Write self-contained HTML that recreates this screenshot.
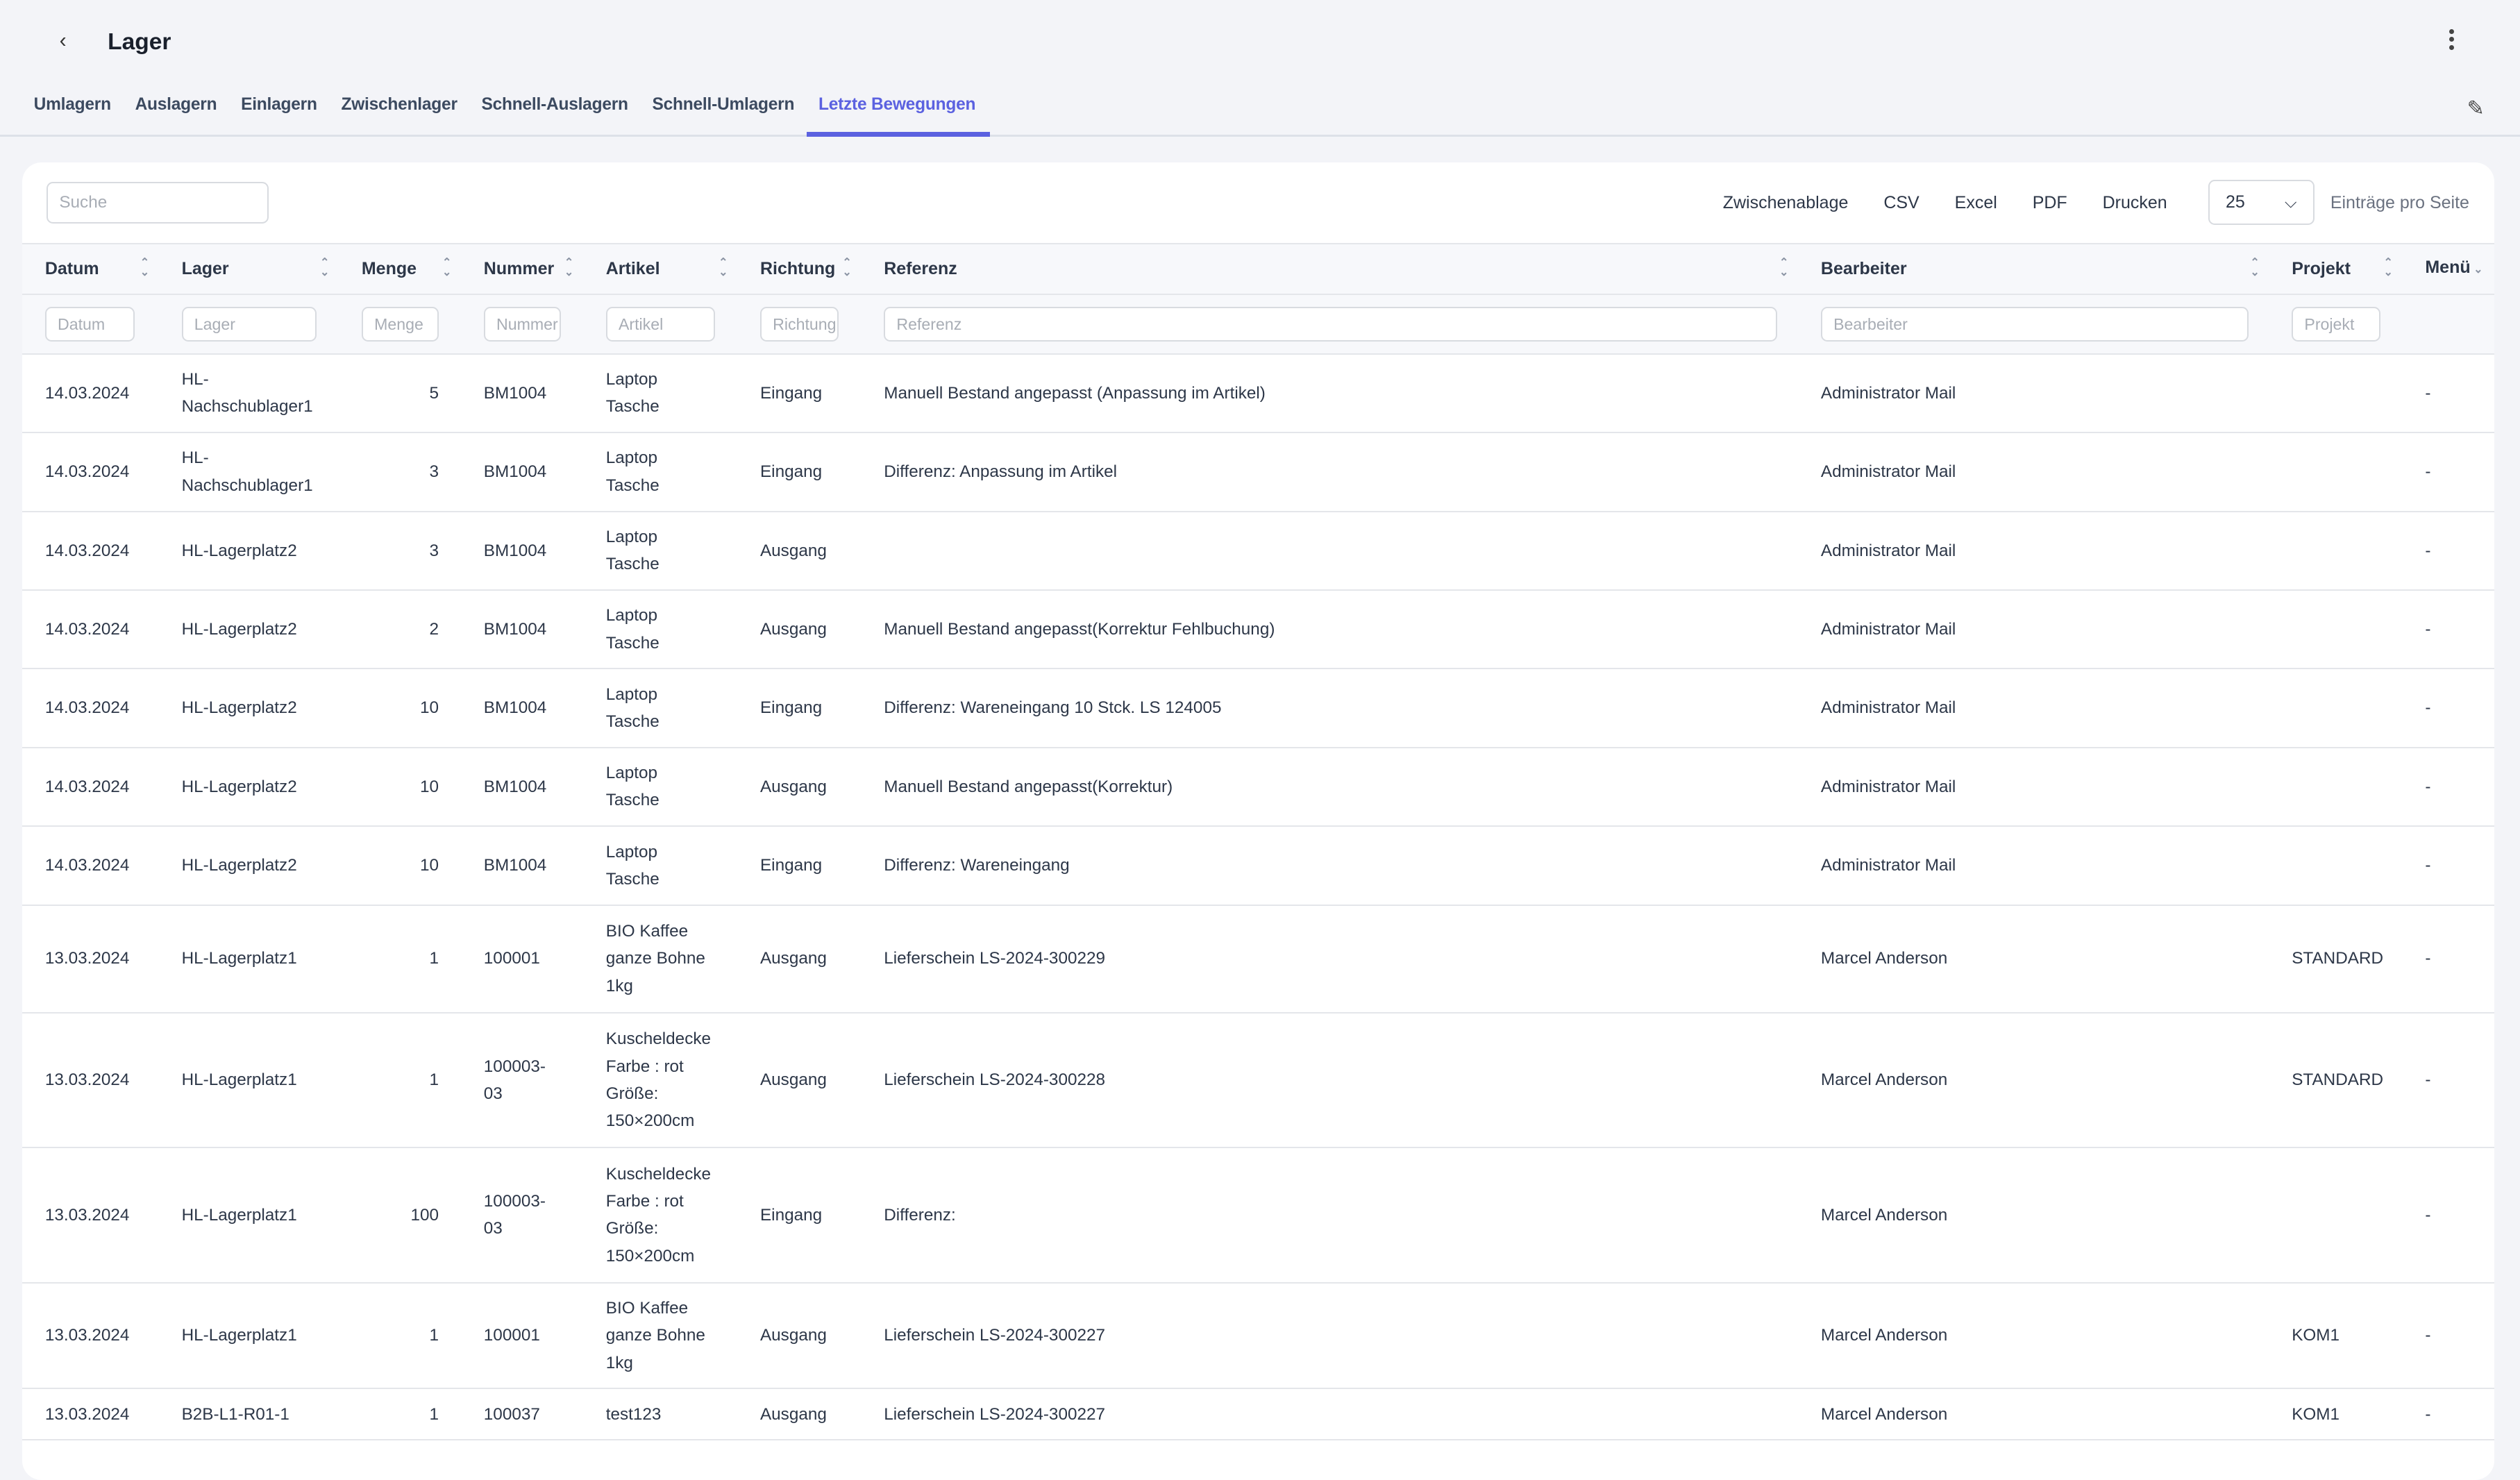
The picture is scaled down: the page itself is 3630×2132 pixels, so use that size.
<!DOCTYPE html>
<html><head><meta charset="utf-8">
<style>
html,body{margin:0;padding:0;}
body{width:1568px;height:903px;zoom:2.31505;background:#f3f4f8;font-family:"Liberation Sans",sans-serif;color:#2d3748;overflow:hidden;position:relative;}
.abs{position:absolute;}
.title{left:67px;top:18px;font-size:14.5px;font-weight:bold;color:#1a202c;}
.back{left:37px;top:18px;font-size:13px;color:#333;}
.dots{left:1524px;top:18px;width:4px;}
.dots i{display:block;width:3px;height:3px;border-radius:50%;background:#444;margin-bottom:2px;}
.tabs{left:21px;top:59px;font-size:10.6px;font-weight:bold;color:#3c4a60;white-space:nowrap;letter-spacing:-0.1px;}
.tabs span{margin-right:15px;}
.tabs .act{color:#5b61e0;}
.tabline{left:0;top:84px;width:1568px;height:1px;background:#dde1e8;}
.tabul{left:502px;top:82px;width:114px;height:3px;background:#5b61e0;}
.card{left:14px;top:101px;width:1538px;height:820px;background:#fff;border-radius:12px;overflow:hidden;}
.inp{position:absolute;border:1px solid #d8dbe0;border-radius:4px;background:#fff;color:#a8adb5;font-size:10px;box-sizing:border-box;padding-left:7px;overflow:hidden;white-space:nowrap;}
table{position:absolute;left:0;top:50px;width:1538px;border-collapse:collapse;table-layout:fixed;font-size:10.5px;}
td,th{padding:0 0 0 14px;text-align:left;vertical-align:middle;border-bottom:1px solid #e4e6ea;line-height:17px;position:relative;}
th{height:31px;background:#f7f8fb;font-weight:bold;color:#2d3748;font-size:10.8px;border-top:1px solid #e4e6ea;}
tr.f td{height:36px;background:#f7f8fb;}
.s{position:absolute;right:6px;top:9px;font-size:7px;line-height:6px;color:#8a93a3;}
.r{text-align:right;padding-right:14px;}
</style></head><body>
<div class="abs back">‹</div>
<div class="abs title">Lager</div>
<div class="abs dots"><i></i><i></i><i></i></div>
<div class="abs tabs"><span>Umlagern</span><span>Auslagern</span><span>Einlagern</span><span>Zwischenlager</span><span>Schnell-Auslagern</span><span>Schnell-Umlagern</span><span class="act">Letzte Bewegungen</span></div>
<div class="abs" style="left:1535px;top:60px;font-size:13px;color:#444;">✎</div>
<div class="abs tabline"></div>
<div class="abs tabul"></div>
<div class="abs card">
<div class="inp" style="left:15px;top:12px;width:138px;height:26px;line-height:24px;font-size:10.5px;">Suche</div>
<div class="abs" style="left:1058px;top:19px;font-size:10.8px;color:#2d3748;white-space:nowrap;">Zwischenablage<span style="margin-left:22px">CSV</span><span style="margin-left:22px">Excel</span><span style="margin-left:22px">PDF</span><span style="margin-left:22px">Drucken</span></div>
<div class="inp" style="left:1360px;top:11px;width:66px;height:28px;line-height:26px;color:#2d3748;font-size:10.8px;padding-left:10px;">25<span style="position:absolute;right:10px;top:0;font-size:10px;">⌵</span></div>
<div class="abs" style="left:1436px;top:19px;font-size:10.8px;color:#6b7280;white-space:nowrap;">Einträge pro Seite</div>
<table>
<colgroup><col style="width:85px"><col style="width:112px"><col style="width:76px"><col style="width:76px"><col style="width:96px"><col style="width:77px"><col style="width:583px"><col style="width:293px"><col style="width:83px"><col style="width:57px"></colgroup>
<tr><th>Datum<span class="s">⌃<br>⌄</span></th><th>Lager<span class="s">⌃<br>⌄</span></th><th>Menge<span class="s">⌃<br>⌄</span></th><th>Nummer<span class="s">⌃<br>⌄</span></th><th>Artikel<span class="s">⌃<br>⌄</span></th><th>Richtung<span class="s">⌃<br>⌄</span></th><th>Referenz<span class="s">⌃<br>⌄</span></th><th>Bearbeiter<span class="s">⌃<br>⌄</span></th><th>Projekt<span class="s">⌃<br>⌄</span></th><th>Menü<span style="font-size:7px;color:#8a93a3"> ⌄</span></th></tr>
<tr class="f">
<td><div class="inp" style="position:relative;width:56px;height:22px;line-height:20px;">Datum</div></td>
<td><div class="inp" style="position:relative;width:84px;height:22px;line-height:20px;">Lager</div></td>
<td><div class="inp" style="position:relative;width:48px;height:22px;line-height:20px;">Menge</div></td>
<td><div class="inp" style="position:relative;width:48px;height:22px;line-height:20px;">Nummer</div></td>
<td><div class="inp" style="position:relative;width:68px;height:22px;line-height:20px;">Artikel</div></td>
<td><div class="inp" style="position:relative;width:49px;height:22px;line-height:20px;">Richtung</div></td>
<td><div class="inp" style="position:relative;width:556px;height:22px;line-height:20px;">Referenz</div></td>
<td><div class="inp" style="position:relative;width:266px;height:22px;line-height:20px;">Bearbeiter</div></td>
<td><div class="inp" style="position:relative;width:55px;height:22px;line-height:20px;">Projekt</div></td>
<td></td></tr>
<tr style="height:49px"><td>14.03.2024</td><td>HL-<br>Nachschublager1</td><td class="r">5</td><td>BM1004</td><td>Laptop<br>Tasche</td><td>Eingang</td><td>Manuell Bestand angepasst (Anpassung im Artikel)</td><td>Administrator Mail</td><td></td><td>-</td></tr>
<tr style="height:49px"><td>14.03.2024</td><td>HL-<br>Nachschublager1</td><td class="r">3</td><td>BM1004</td><td>Laptop<br>Tasche</td><td>Eingang</td><td>Differenz: Anpassung im Artikel</td><td>Administrator Mail</td><td></td><td>-</td></tr>
<tr style="height:49px"><td>14.03.2024</td><td>HL-Lagerplatz2</td><td class="r">3</td><td>BM1004</td><td>Laptop<br>Tasche</td><td>Ausgang</td><td></td><td>Administrator Mail</td><td></td><td>-</td></tr>
<tr style="height:49px"><td>14.03.2024</td><td>HL-Lagerplatz2</td><td class="r">2</td><td>BM1004</td><td>Laptop<br>Tasche</td><td>Ausgang</td><td>Manuell Bestand angepasst(Korrektur Fehlbuchung)</td><td>Administrator Mail</td><td></td><td>-</td></tr>
<tr style="height:49px"><td>14.03.2024</td><td>HL-Lagerplatz2</td><td class="r">10</td><td>BM1004</td><td>Laptop<br>Tasche</td><td>Eingang</td><td>Differenz: Wareneingang 10 Stck. LS 124005</td><td>Administrator Mail</td><td></td><td>-</td></tr>
<tr style="height:49px"><td>14.03.2024</td><td>HL-Lagerplatz2</td><td class="r">10</td><td>BM1004</td><td>Laptop<br>Tasche</td><td>Ausgang</td><td>Manuell Bestand angepasst(Korrektur)</td><td>Administrator Mail</td><td></td><td>-</td></tr>
<tr style="height:49px"><td>14.03.2024</td><td>HL-Lagerplatz2</td><td class="r">10</td><td>BM1004</td><td>Laptop<br>Tasche</td><td>Eingang</td><td>Differenz: Wareneingang</td><td>Administrator Mail</td><td></td><td>-</td></tr>
<tr style="height:67px"><td>13.03.2024</td><td>HL-Lagerplatz1</td><td class="r">1</td><td>100001</td><td>BIO Kaffee<br>ganze Bohne<br>1kg</td><td>Ausgang</td><td>Lieferschein LS-2024-300229</td><td>Marcel Anderson</td><td>STANDARD</td><td>-</td></tr>
<tr style="height:84px"><td>13.03.2024</td><td>HL-Lagerplatz1</td><td class="r">1</td><td>100003-<br>03</td><td>Kuscheldecke<br>Farbe : rot<br>Größe:<br>150×200cm</td><td>Ausgang</td><td>Lieferschein LS-2024-300228</td><td>Marcel Anderson</td><td>STANDARD</td><td>-</td></tr>
<tr style="height:84px"><td>13.03.2024</td><td>HL-Lagerplatz1</td><td class="r">100</td><td>100003-<br>03</td><td>Kuscheldecke<br>Farbe : rot<br>Größe:<br>150×200cm</td><td>Eingang</td><td>Differenz:</td><td>Marcel Anderson</td><td></td><td>-</td></tr>
<tr style="height:66px"><td>13.03.2024</td><td>HL-Lagerplatz1</td><td class="r">1</td><td>100001</td><td>BIO Kaffee<br>ganze Bohne<br>1kg</td><td>Ausgang</td><td>Lieferschein LS-2024-300227</td><td>Marcel Anderson</td><td>KOM1</td><td>-</td></tr>
<tr style="height:32px"><td>13.03.2024</td><td>B2B-L1-R01-1</td><td class="r">1</td><td>100037</td><td>test123</td><td>Ausgang</td><td>Lieferschein LS-2024-300227</td><td>Marcel Anderson</td><td>KOM1</td><td>-</td></tr>
<tr style="height:49px"><td></td><td></td><td></td><td></td><td></td><td></td><td></td><td></td><td></td><td></td></tr>
</table>
</div>
</body></html>
